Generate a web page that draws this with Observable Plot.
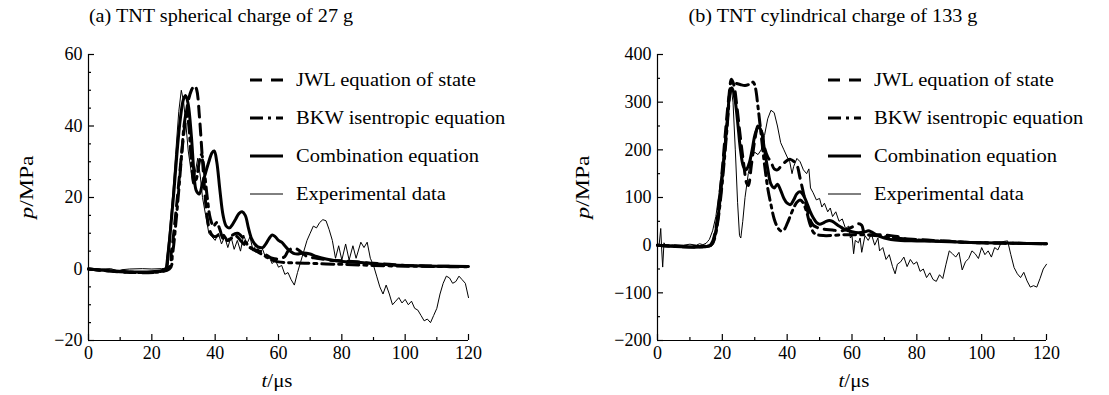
<!DOCTYPE html>
<html><head><meta charset="utf-8">
<script src="https://cdn.jsdelivr.net/npm/d3@7"></script>
<script src="https://cdn.jsdelivr.net/npm/@observablehq/plot@0.6"></script>
<style>
body{margin:0;background:#fff;font-family:"Liberation Serif","DejaVu Serif","Times New Roman",serif;color:#000}
#wrap{position:relative;width:1109px;height:395px;overflow:hidden;background:#fff}
#wrap svg text{font-family:"Liberation Serif","DejaVu Serif","Times New Roman",serif !important;font-size:18px}
.panel{position:absolute;top:0}
.title{position:absolute;top:6px;font-size:18px;white-space:nowrap;transform:translateX(-50%) scaleX(1.12)}
.xlab{position:absolute;top:370px;font-size:19px;white-space:nowrap;transform:translateX(-50%) scaleX(1.1)}
.ylab{position:absolute;font-size:19px;white-space:nowrap;transform:translate(-50%,-50%) rotate(-90deg) scaleX(1.25)}
.row{position:absolute;white-space:nowrap;height:20px;line-height:20px;font-size:18px}
.row svg{position:absolute;left:0;top:5px}
.row span{position:absolute;top:0;transform-origin:0 50%;transform:scaleX(1.14)}
</style></head>
<body>
<div id="wrap"></div>
<script>
// ---------- data ----------
const xMajor = [0, 20, 40, 60, 80, 100, 120];
const xMinor = [10, 30, 50, 70, 90, 110];
const yMajorA = [-20, 0, 20, 40, 60];
const yMinorA = [-15, -10, -5, 5, 10, 15, 25, 30, 35, 45, 50, 55];
const yMajorB = [-200, -100, 0, 100, 200, 300, 400];
const yMinorB = [-150, -50, 50, 150, 250, 350];
const seriesNames = ["JWL equation of state", "BKW isentropic equation", "Combination equation", "Experimental data"];
const titleA = "(a) TNT spherical charge of 27 g";
const titleB = "(b) TNT cylindrical charge of 133 g";

// panel (a): [t (µs), p (MPa)]
const expA = [[0,0],[4,0],[7,0.1],[8.5,-0.3],[9.5,-0.6],[10.5,-0.2],[13,0],[17,0.1],[20,0],[23,0.1],[24.3,0.2],[25.5,10],[26.5,20],[27.5,32],[28.5,44],[29.3,50],[30,47],[30.8,40],[31.5,33],[32.3,28],[33,24],[33.7,27],[34.5,31],[35.3,26],[36,20],[37,15],[38,10],[39,9],[40,8],[41,10],[42,7],[43,9],[44,6],[45,9],[46,5.5],[47,8],[48,5],[49,9.5],[50,7],[51,9],[52,5],[53,7],[54,4.5],[55,5.5],[56,3],[57,3.5],[58,1.5],[59,2.5],[60,0.5],[61,1],[62,-1.5],[63,-1],[64,-3],[65,-4.5],[66,-1],[67,2],[68,5],[69,8],[70,10],[71,12],[72,11.5],[73,13],[74,13.8],[75,13.5],[76,11],[77,8],[78,3],[79,6.5],[80,2.5],[81.2,7],[82.3,2.5],[83.5,6.5],[84.5,3],[86,7.5],[87,6],[88,7.5],[89,3],[90,1],[91,-2],[92,-5],[93,-7],[94,-4.5],[95,-7],[96,-10],[97,-9],[98,-8],[99,-9.5],[100,-8.5],[101,-10],[102,-9],[103,-11],[104,-11.5],[105,-13],[106,-14.5],[107,-14],[108,-15],[109,-13],[110,-11],[111,-7],[112,-4],[113,-2],[114,-2.5],[115,-4],[116,-3.5],[117,-2],[118,-3],[119,-4],[120,-8]];
const combA = [[0,0],[24.3,0],[25,3],[26,12],[27,22],[28,33],[29,42],[30,47.5],[30.7,48.5],[31.5,46],[32.5,37],[33.3,27],[34,22],[35,21],[36,24],[37,27],[38,30],[39,32.5],[39.7,33],[40.5,30],[41.5,22],[42.5,15],[43.5,12],[44.5,11.5],[45.5,12.5],[46.5,14],[47.5,15.5],[48.5,16],[49.5,15],[50.5,11.5],[51.5,8.5],[52.5,7],[53.5,6.2],[55,6],[56,7],[57,8.5],[58,9.5],[59,9],[60,8],[61,7.5],[62,6.5],[63,5.5],[64,4.8],[65,4.3],[66,4.2],[68,4.5],[70,4.2],[72,3.5],[75,2.8],[78,2.3],[82,2],[86,1.8],[90,1.5],[95,1.2],[100,1],[110,0.8],[120,0.7]];
const jwlA = [[0,0],[25,0],[26.2,5],[27.5,15],[28.5,24],[29.5,33],[30.5,41],[31.5,47],[32.5,50],[33.5,51.3],[34.2,50],[35,43],[35.8,33],[36.6,23],[37.4,15],[38.2,11],[39,9.5],[40,9],[41,9.5],[42,10],[43,9],[44,8],[45,8.5],[46,9.5],[47,9],[48,8],[49,7],[50,6.5],[52,5.5],[54,5],[56,4],[58,3],[60,2.8],[62,3.5],[63,5],[64.5,5.8],[66,5.5],[67.5,4.5],[69,3.5],[72,3],[76,2.5],[80,2.3],[85,2],[90,1.6],[95,1.3],[100,1],[110,0.8],[120,0.7]];
const bkwA = [[0,0],[25.5,0],[26.5,4],[27.5,12],[28.5,22],[29.5,33],[30.3,41],[31,44],[31.7,40],[32.5,30],[33.3,24],[34,25],[35,30],[35.7,32],[36.5,28],[37.5,20],[38.5,14],[39.5,12],[40.5,13],[41.5,11],[42.5,8.5],[44,8],[45.5,9.5],[47,10],[48.5,9],[50,7],[52,5.5],[54,4.5],[56,3.5],[58,2.5],[60,2],[62,1.8],[65,1.7],[70,1.6],[75,1.4],[80,1.3],[90,1],[100,0.8],[110,0.7],[120,0.6]];

// panel (b): [t (µs), p (MPa)]
const expB = [[0,0],[0.5,0],[1,35],[1.3,-10],[1.6,-46],[2,5],[2.5,-2],[3,0],[5,1],[8,0],[10,2],[12,0],[13,3],[14,1],[15,4],[15.5,8],[16,12],[17,30],[18,60],[19,110],[20,170],[21,240],[22,300],[22.7,330],[23.3,300],[24,200],[24.7,90],[25.3,20],[25.7,15],[26.3,50],[27,100],[28,150],[29,185],[30,195],[31,190],[32,200],[33,230],[34,265],[35,283],[36,278],[37,250],[38,215],[39,200],[40,185],[40.8,175],[41.5,150],[42,165],[43,182],[44,175],[45,158],[46,150],[46.7,160],[47.2,120],[48,110],[49,95],[50,98],[50.7,80],[51.5,88],[52.5,70],[53.3,78],[54,60],[55,70],[56,50],[57,55],[58,35],[59,40],[59.5,15],[60,20],[60.5,-18],[61,10],[62,5],[62.5,15],[63,-15],[64,20],[65,10],[66,23],[67,0],[68,15],[68.5,-12],[69.5,-5],[70.5,-30],[71.5,-20],[72.5,-45],[73.3,-60],[74,-40],[75,-35],[76,-25],[77,-45],[78,-30],[79,-40],[80,-35],[81,-55],[82,-50],[83,-68],[84,-58],[85,-72],[86,-76],[87,-62],[88,-70],[89,-40],[90,-12],[91,-18],[92,-25],[93,-15],[94,-52],[95,-35],[96,-28],[97,-12],[98,-18],[99,-28],[100,-5],[101,-20],[102,-12],[103,-25],[104,-5],[105,-10],[106,5],[107,8],[108,9],[109,-20],[110,-47],[111,-60],[112,-68],[113,-57],[114,-75],[115,-88],[116,-85],[117,-88],[118,-70],[119,-50],[120,-40]];
const combB = [[0,0],[16.5,0],[17.5,15],[18.5,50],[19.5,110],[20.5,180],[21.5,260],[22.5,325],[23,330],[23.8,310],[24.7,260],[25.6,200],[26.5,165],[27.3,158],[28.2,170],[29.2,200],[30.2,235],[31.2,248],[32,240],[33,200],[34,160],[35,128],[36,120],[37,128],[38,115],[39,98],[40,88],[41,85],[42,95],[43,108],[44,112],[45,105],[46,90],[47,72],[48,58],[49,48],[50,44],[51,46],[52,50],[53,52],[54,50],[55,45],[56,40],[57,36],[58,32],[59,30],[60,28],[62,26],[64,28],[65,30],[66,28],[68,20],[70,15],[72,12],[75,10],[80,9],[85,8],[90,7],[95,6],[100,5],[110,4],[120,3]];
const jwlB = [[0,0],[16,0],[17,8],[18,35],[19,90],[20,160],[21,240],[22,310],[22.8,348],[23.6,335],[24.5,290],[25.5,230],[26.5,175],[27.5,130],[28,125],[29,170],[30,220],[31,250],[32,240],[33,205],[34,185],[35,175],[36,160],[37,158],[38,165],[39,172],[40,178],[41,180],[42,176],[43,168],[44,140],[45,110],[46,80],[47,55],[48,42],[49,38],[50,35],[52,33],[54,32],[56,30],[58,32],[60,38],[62,45],[63,42],[64,22],[66,22],[68,22],[70,21],[72,20],[74,18],[76,14],[80,12],[85,10],[90,8],[95,6],[100,5],[110,4],[120,3]];
const bkwB = [[0,0],[16.5,0],[17.5,12],[18.5,45],[19.5,100],[20.5,170],[21.5,250],[22.3,320],[22.8,343],[24,340],[25.5,337],[27,335],[28.5,338],[29.5,342],[30.2,330],[31,290],[32,230],[33,170],[34,120],[35,85],[36,55],[37,38],[38,30],[39,32],[40,45],[41,62],[42,78],[43,90],[44,95],[45,88],[46,70],[47,45],[48,28],[49,22],[50,21],[52,20],[55,21],[58,22],[60,22],[63,22],[66,21],[70,18],[75,14],[80,11],[85,9],[90,8],[95,6],[100,5],[110,4],[120,3]];

// ---------- styles ----------
const styles = [
  {strokeWidth: 3, strokeDasharray: "11,7", curve: "catmull-rom"},
  {strokeWidth: 3, strokeDasharray: "12,5,3,5", curve: "catmull-rom"},
  {strokeWidth: 3, strokeDasharray: null, curve: "catmull-rom"},
  {strokeWidth: 1, strokeDasharray: null, curve: "linear"}
];

function panel(cfg) {
  const [jwl, bkw, comb, exp] = cfg.series;
  const line = (d, s) => Plot.line(d, {x: d => d[0], y: d => d[1], stroke: "#000", strokeWidth: s.strokeWidth, strokeDasharray: s.strokeDasharray, curve: s.curve, strokeLinejoin: "round"});
  return Plot.plot({
    width: cfg.width, height: 395,
    marginLeft: cfg.ml, marginRight: cfg.mr, marginTop: 54, marginBottom: 55,
    x: {domain: [0, 120]},
    y: {domain: cfg.yDomain},
    style: {fontFamily: "'Liberation Serif', 'DejaVu Serif', 'Times New Roman', serif", fontSize: "18px", color: "#000", background: "transparent", overflow: "visible"},
    marks: [
      line(exp, styles[3]),
      line(bkw, styles[1]),
      line(jwl, styles[0]),
      line(comb, styles[2]),
      Plot.ruleX([0], {stroke: "#000", strokeWidth: 1.2}),
      Plot.ruleY([cfg.yDomain[0]], {stroke: "#000", strokeWidth: 1.2}),
      Plot.axisX({ticks: xMajor, tickSize: -6, tickFormat: () => "", label: null, strokeWidth: 1.2}),
      Plot.axisX({ticks: xMinor, tickSize: -3, tickFormat: () => "", label: null, strokeWidth: 1.2}),
      Plot.axisX({ticks: xMajor, tickSize: 0, tickPadding: 6, label: null, tickFormat: d => String(d)}),
      Plot.axisY({ticks: cfg.yMajor, tickSize: -6, tickFormat: () => "", label: null, strokeWidth: 1.2}),
      Plot.axisY({ticks: cfg.yMinor, tickSize: -3, tickFormat: () => "", label: null, strokeWidth: 1.2}),
      Plot.axisY({ticks: cfg.yMajor, tickSize: 0, tickPadding: 6, label: null, tickFormat: d => d < 0 ? "\u2212" + Math.abs(d) : String(d)})
    ]
  });
}

const wrap = document.getElementById("wrap");
function addPanel(left, cfg) {
  const div = document.createElement("div");
  div.className = "panel";
  div.style.left = left + "px";
  div.appendChild(panel(cfg));
  wrap.appendChild(div);
}
addPanel(0, {width: 555, ml: 88, mr: 87, yDomain: [-20, 60], yMajor: yMajorA, yMinor: yMinorA, series: [jwlA, bkwA, combA, expA]});
addPanel(555, {width: 554, ml: 102, mr: 63, yDomain: [-200, 400], yMajor: yMajorB, yMinor: yMinorB, series: [jwlB, bkwB, combB, expB]});

function addText(cls, html, x, y) {
  const d = document.createElement("div");
  d.className = cls;
  d.innerHTML = html;
  d.style.left = x + "px";
  if (y != null) d.style.top = y + "px";
  wrap.appendChild(d);
}
addText("title", titleA, 221);
addText("title", titleB, 833);
addText("xlab", "<i>t</i>/\u03bcs", 277);
addText("xlab", "<i>t</i>/\u03bcs", 854);
addText("ylab", "<i>p</i>/MPa", 27, 187);
addText("ylab", "<i>p</i>/MPa", 583, 187);

function addLegend(x, textX) {
  const rowsY = [70, 108, 146, 184];
  seriesNames.forEach((name, i) => {
    const r = document.createElement("div");
    r.className = "row";
    r.style.left = x + "px";
    r.style.top = rowsY[i] + "px";
    const s = styles[i];
    r.innerHTML = `<svg width="36" height="10"><line x1="1" y1="5" x2="34" y2="5" stroke="#000" stroke-width="${s.strokeWidth}" ${s.strokeDasharray ? `stroke-dasharray="${i===0?'12,9':'13,5,3,5'}"` : ""}/></svg><span style="left:${textX - x}px">${name}</span>`;
    wrap.appendChild(r);
  });
}
addLegend(249, 296);
addLegend(827, 874);
</script>
</body></html>
